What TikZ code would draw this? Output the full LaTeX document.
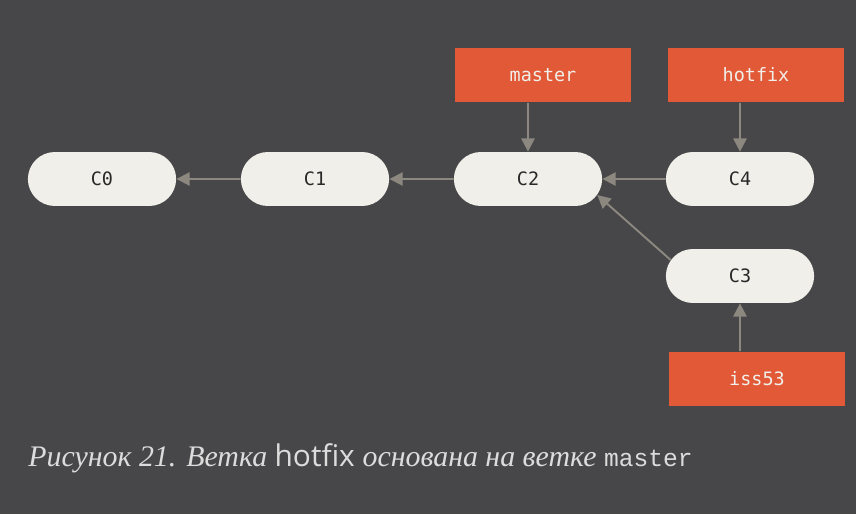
\documentclass[tikz,border=0pt]{standalone}
\usepackage{fontspec}
\setmainfont{Liberation Serif}
\setsansfont{Open Sans}
\setmonofont{DejaVu Sans Mono}
\newfontfamily\capmono{Liberation Mono}
\usetikzlibrary{arrows.meta,shapes.misc}
\definecolor{gtBack}  {RGB}{ 71, 71, 73}
\definecolor{gtNode}  {RGB}{240,239,233}
\definecolor{gtText}  {RGB}{ 40, 40, 40}
\definecolor{gtRef}   {RGB}{226, 89, 56}
\definecolor{gtArrow} {RGB}{140,136,128}
\definecolor{gtCap}   {RGB}{220,220,220}

\begin{document}
\begin{tikzpicture}[
  x=0.02cm,y=-0.02cm,
  commit/.style={rounded rectangle,fill=gtNode,draw=none,
                 minimum width=3.2cm,minimum height=1.08cm,
                 font=\ttfamily\fontsize{10.5}{12}\selectfont,text=gtText},
  branch/.style={rectangle,fill=gtRef,draw=none,
                 minimum width=3.52cm,minimum height=1.1cm,
                 font=\ttfamily\fontsize{10.5}{12}\selectfont,text=gtNode},
  parent/.style={draw=gtArrow,line width=1.1pt,
                 -{Triangle[width=7.5pt,length=7.5pt]}}
]
\fill[gtBack] (0,0) rectangle (856,514);
\useasboundingbox (0,0) rectangle (856,514);

% commits
\node[commit] (C0) at (102,179) {C0};
\node[commit] (C1) at (315,179) {C1};
\node[commit] (C2) at (528,179) {C2};
\node[commit] (C4) at (740,179) {C4};
\node[commit] (C3) at (740,276) {C3};

% branches
\node[branch] (master) at (543,75)  {master};
\node[branch] (hotfix) at (756,75)  {hotfix};
\node[branch] (iss53)  at (757,379) {iss53};

% history
\draw[parent] (C1) -- (C0);
\draw[parent] (C2) -- (C1);
\draw[parent] (C4) -- (C2);
\draw[parent] (C3.167) -- (C2.-13);

% refs
\draw[parent] (master.south -| C2) -- (C2);
\draw[parent] (hotfix.south -| C4) -- (C4);
\draw[parent] (iss53.north -| C3) -- (C3);

% caption
\node[anchor=west,inner sep=0pt,text=gtCap,font=\fontsize{17}{20}\selectfont] (cap) at (28,458)
  {\itshape Рисунок 21. Ветка \upshape\sffamily hotfix \rmfamily\itshape основана на ветке
   \upshape\capmono\fontsize{14}{20}\selectfont master};
\end{tikzpicture}
\end{document}
